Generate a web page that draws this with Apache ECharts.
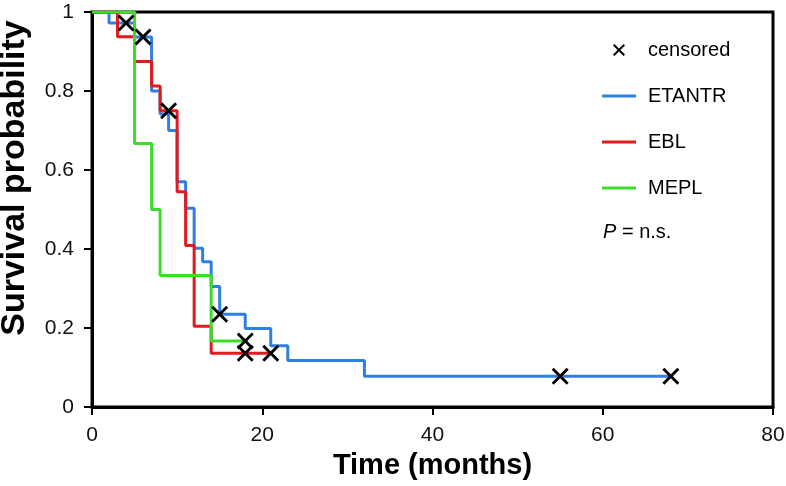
<!DOCTYPE html>
<html>
<head>
<meta charset="utf-8">
<script src="https://cdn.jsdelivr.net/npm/echarts@6/dist/echarts.min.js"></script>
<style>
html,body{margin:0;padding:0;background:#fff;}
#chart{width:786px;height:486px;}
</style>
</head>
<body>
<div id="chart"></div>
<script>
// Kaplan-Meier step data (time in months, survival probability after each step)
const etantrTime = [0, 2, 5, 7, 8, 9, 10, 11, 12, 13, 14, 15, 18, 21, 23, 32, 68];
const etantrSurv = [1, 0.972, 0.937, 0.80, 0.742, 0.700, 0.570, 0.503, 0.402, 0.368, 0.305, 0.235, 0.199, 0.155, 0.118, 0.078, 0.078];

const eblTime = [0, 3, 5, 7, 8, 10, 11, 12, 14, 21];
const eblSurv = [1, 0.9375, 0.875, 0.8125, 0.75, 0.545, 0.409, 0.2045, 0.136, 0.136];

const meplTime = [0, 5, 7, 8, 14, 18];
const meplSurv = [1, 0.667, 0.5, 0.333, 0.167, 0.167];

// censored observations
const censorTime = [4, 6, 9, 15, 18, 18, 21, 55, 68];
const censorSurv = [0.972, 0.937, 0.75, 0.235, 0.167, 0.136, 0.136, 0.078, 0.078];

const xTicks = [0, 20, 40, 60, 80];
const yTicks = [0, 0.2, 0.4, 0.6, 0.8, 1];

const seriesNames = ['ETANTR', 'EBL', 'MEPL'];
const seriesColors = ['#2f7fe3', '#e2191f', '#3cdc2c'];
const legendOrder = ['censored', 'ETANTR', 'EBL', 'MEPL'];

const zip = (a, b) => a.map((v, i) => [v, b[i]]);
const crossPath = 'path://M0,1.2L1.2,0L5,3.8L8.8,0L10,1.2L6.2,5L10,8.8L8.8,10L5,6.2L1.2,10L0,8.8L3.8,5Z';
const barPath = 'path://M0,0L34,0L34,3L0,3Z';

const chart = echarts.init(document.getElementById('chart'), null, {renderer: 'canvas'});
const font = '"Liberation Sans", Arial, Helvetica, sans-serif';

const option = {
  backgroundColor: '#fff',
  animation: false,
  textStyle: {fontFamily: font},
  grid: {left: 92, right: 13, top: 12, bottom: 79, show: true, borderColor: '#000', borderWidth: 3,
    backgroundColor: 'transparent', containLabel: false, outerBoundsMode: 'none'},
  xAxis: {
    type: 'value', min: xTicks[0], max: xTicks[xTicks.length - 1], interval: 20,
    name: 'Time (months)', nameLocation: 'middle', nameGap: 44,
    nameTextStyle: {fontSize: 29, fontWeight: 'bold', color: '#000', fontFamily: font},
    axisLine: {show: true, lineStyle: {color: '#000', width: 3}},
    axisTick: {show: true, inside: false, length: 8, lineStyle: {color: '#000', width: 2}},
    axisLabel: {fontSize: 21, color: '#111', margin: 18, fontFamily: font},
    splitLine: {show: false}
  },
  yAxis: {
    type: 'value', min: yTicks[0], max: yTicks[yTicks.length - 1], interval: 0.2,
    name: 'Survival probability', nameLocation: 'middle', nameGap: 60,
    nameTextStyle: {fontSize: 34, fontWeight: 'bold', color: '#000', fontFamily: font, padding: [0, 0, 0, 63]},
    axisLine: {show: true, lineStyle: {color: '#000', width: 3}},
    axisTick: {show: true, inside: false, length: 8, lineStyle: {color: '#000', width: 2}},
    axisLabel: {fontSize: 21, color: '#111', margin: 18, fontFamily: font,
      formatter: v => (v === 0 || v === 1) ? String(v) : v.toFixed(1)},
    splitLine: {show: false}
  },
  legend: {
    orient: 'vertical', left: 602, top: 40, padding: 0,
    itemWidth: 34, itemHeight: 12, itemGap: 26,
    textStyle: {fontSize: 20, color: '#000', fontFamily: font, lineHeight: 20, padding: [0, 0, 0, 7]},
    data: [
      {name: legendOrder[0], icon: crossPath, itemStyle: {color: '#000'}},
      {name: legendOrder[1], icon: barPath, itemStyle: {color: seriesColors[0]}},
      {name: legendOrder[2], icon: barPath, itemStyle: {color: seriesColors[1]}},
      {name: legendOrder[3], icon: barPath, itemStyle: {color: seriesColors[2]}}
    ]
  },
  graphic: [{
    type: 'text', left: 603, top: 222,
    style: {
      text: '{i|P} = n.s.',
      fontSize: 20, fontFamily: font, fill: '#000',
      rich: {i: {fontStyle: 'italic', fontSize: 20, fontFamily: font, fill: '#000'}}
    }
  }],
  series: [
    {name: seriesNames[0], type: 'line', step: 'end', symbol: 'none', data: zip(etantrTime, etantrSurv),
      lineStyle: {color: seriesColors[0], width: 3}, itemStyle: {color: seriesColors[0]}, z: 2},
    {name: seriesNames[1], type: 'line', step: 'end', symbol: 'none', data: zip(eblTime, eblSurv),
      lineStyle: {color: seriesColors[1], width: 3}, itemStyle: {color: seriesColors[1]}, z: 3},
    {name: seriesNames[2], type: 'line', step: 'end', symbol: 'none', data: zip(meplTime, meplSurv),
      lineStyle: {color: seriesColors[2], width: 3}, itemStyle: {color: seriesColors[2]}, z: 4},
    {name: 'censored', type: 'scatter', symbol: crossPath, symbolSize: 17, data: zip(censorTime, censorSurv),
      itemStyle: {color: '#000', opacity: 1}, z: 10}
  ]
};
chart.setOption(option);
</script>
</body>
</html>
